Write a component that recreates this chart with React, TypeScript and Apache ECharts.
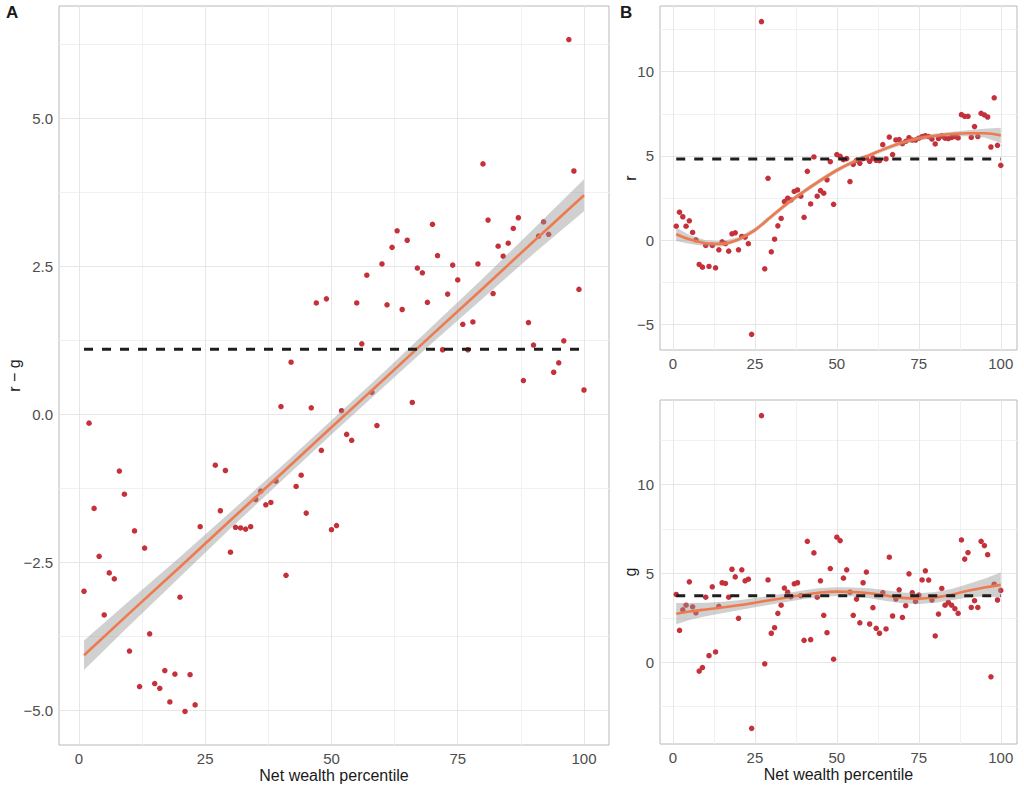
import React, { useEffect, useRef } from "react";
import * as echarts from "echarts";

// Net wealth percentiles present in the data (25 and 26 are absent)
const percentiles = [
  1, 2, 3, 4, 5, 6, 7, 8, 9, 10, 11, 12, 13, 14, 15, 16, 17, 18, 19, 20, 21, 22, 23, 24,
  27, 28, 29, 30, 31, 32, 33, 34, 35, 36, 37, 38, 39, 40, 41, 42, 43, 44, 45, 46, 47, 48, 49, 50,
  51, 52, 53, 54, 55, 56, 57, 58, 59, 60, 61, 62, 63, 64, 65, 66, 67, 68, 69, 70, 71, 72, 73, 74, 75,
  76, 77, 78, 79, 80, 81, 82, 83, 84, 85, 86, 87, 88, 89, 90, 91, 92, 93, 94, 95, 96, 97, 98, 99, 100,
];

const rMinusG = [
  -2.99, -0.15, -1.59, -2.4, -3.39, -2.68, -2.78, -0.96, -1.35, -4.0, -1.97, -4.6, -2.26, -3.71, -4.55, -4.63,
  -4.33, -4.86, -4.39, -3.09, -5.02, -4.4, -4.91, -1.9,
  -0.86, -1.63, -0.95, -2.33, -1.91, -1.92, -1.94, -1.9, -1.44, -1.3, -1.53, -1.49, -1.13, 0.13, -2.72, 0.88,
  -1.22, -1.03, -1.67, 0.11, 1.88, -0.61, 1.95, -1.95, -1.88, 0.06, -0.34, -0.44, 1.88, 1.19, 2.35, 0.37,
  -0.19, 2.54, 1.85, 2.82, 3.1, 1.77, 2.94, 0.2, 2.47, 2.39, 1.89, 3.21, 2.68, 1.09, 2.03, 2.52, 2.27, 1.52,
  1.09, 1.56, 2.54, 4.23, 3.28, 2.04, 2.84, 2.67, 2.89, 3.14, 3.32, 0.57, 1.55, 1.17, 3.01, 3.25, 3.04, 0.71,
  0.87, 1.24, 6.33, 4.11, 2.11, 0.41,
];

const rValues = [
  0.83, 1.66, 1.39, 0.83, 1.15, 0.46, 0.02, -1.44, -1.6, -0.31, -1.56, -0.31, -1.64, -0.57, -0.1, -0.21,
  -0.65, 0.38, 0.44, -0.57, 0.22, 0.18, -0.21, -5.59,
  12.97, -1.7, 3.67, -0.69, 0.06, 0.85, 1.29, 2.29, 2.49, 2.39, 2.89, 2.98, 2.61, 1.36, 4.09, 2.15, 4.94,
  2.61, 2.94, 2.79, 3.58, 4.66, 2.13, 5.08, 4.98, 4.78, 4.84, 3.48, 4.5, 4.74, 4.56, 4.84, 4.88, 4.68, 4.87,
  4.74, 4.72, 5.67, 4.82, 6.12, 5.08, 5.95, 5.97, 5.73, 5.87, 6.08, 5.94, 5.94, 6.05, 6.15, 6.2, 6.15, 6.0,
  5.71, 6.03, 6.19, 6.05, 6.03, 6.1, 6.15, 6.07, 7.45, 7.35, 7.35, 6.1, 6.74, 6.15, 7.53, 7.43, 7.31, 5.53,
  8.45, 5.63, 4.44,
];

const gValues = [
  3.81, 1.79, 2.95, 3.21, 4.52, 3.12, 2.78, -0.5, -0.3, 3.66, 0.37, 4.24, 0.58, 3.14, 4.47, 4.43, 3.66, 5.23,
  4.8, 2.47, 5.2, 4.58, 4.67, -3.72,
  13.87, -0.09, 4.63, 1.63, 1.94, 2.75, 3.21, 4.17, 3.94, 3.69, 4.41, 4.47, 3.74, 1.23, 6.8, 1.27, 6.15,
  3.66, 4.58, 2.64, 1.66, 5.27, 0.17, 7.03, 6.84, 4.73, 5.2, 3.94, 2.64, 3.55, 2.22, 4.47, 5.07, 2.15, 3.07,
  1.91, 1.63, 3.92, 1.87, 5.91, 2.6, 3.55, 4.07, 2.52, 3.18, 4.97, 3.91, 3.42, 3.78, 4.63, 5.14, 4.62, 3.5,
  1.48, 2.71, 4.15, 3.21, 3.36, 3.21, 3.01, 2.75, 6.88, 5.8, 6.17, 3.08, 3.46, 3.08, 6.8, 6.56, 6.05, -0.82,
  4.39, 3.5, 4.04,
];

// horizontal reference (mean) levels
const meanRG = 1.1;
const meanR = 4.82;
const meanG = 3.74;

// Panel A: linear fit with confidence band
const fitXA = [1, 10, 20, 30, 40, 50, 60, 70, 80, 90, 100];
const fitA = [-4.07, -3.36, -2.58, -1.79, -1.01, -0.22, 0.56, 1.35, 2.13, 2.92, 3.7];
const halfA = [0.25, 0.21, 0.17, 0.14, 0.125, 0.12, 0.125, 0.14, 0.17, 0.21, 0.27];

// Panels B and C: smooth fits with confidence bands
const fitXBC = [1, 5, 10, 15, 20, 25, 30, 35, 40, 45, 50, 55, 60, 65, 70, 75, 80, 85, 90, 95, 100];
const fitR = [0.35, 0.05, -0.18, -0.22, 0.05, 0.6, 1.4, 2.2, 2.9, 3.55, 4.15, 4.65, 5.05, 5.45, 5.8, 6.05, 6.2, 6.3, 6.35, 6.35, 6.22];
const halfR = [0.4, 0.26, 0.18, 0.15, 0.14, 0.14, 0.14, 0.14, 0.14, 0.14, 0.14, 0.13, 0.13, 0.13, 0.13, 0.13, 0.13, 0.14, 0.18, 0.26, 0.45];
const fitG = [2.73, 2.85, 2.97, 3.08, 3.2, 3.35, 3.5, 3.65, 3.8, 3.92, 3.97, 3.95, 3.88, 3.75, 3.62, 3.58, 3.65, 3.8, 4.02, 4.2, 4.35];
const halfG = [0.6, 0.48, 0.38, 0.32, 0.28, 0.26, 0.25, 0.25, 0.25, 0.25, 0.25, 0.26, 0.28, 0.3, 0.3, 0.3, 0.3, 0.32, 0.38, 0.5, 0.7];

// tick labels / grid lines
const xTicks = [0, 25, 50, 75, 100];
const xMinor = [12.5, 37.5, 62.5, 87.5];
const yTicksA = [-5, -2.5, 0, 2.5, 5];
const yMinorA = [-3.75, -1.25, 1.25, 3.75, 6.25];
const yTicksB = [-5, 0, 5, 10];
const yMinorB = [-2.5, 2.5, 7.5, 12.5];
const yTicksC = [0, 5, 10];
const yMinorC = [-2.5, 2.5, 7.5, 12.5];

const FONT = "'Liberation Sans', Arial, Helvetica, sans-serif";
const POINT = "#c5313b";
const FIT = "#ee7a4e";
const BAND = "rgba(150,150,150,0.45)";
const GRID_MAJOR = "#e6e6e6";
const GRID_MINOR = "#f1f1f1";

function expand(values: number[]): [number, number] {
  const lo = Math.min(...values);
  const hi = Math.max(...values);
  const pad = (hi - lo) * 0.05;
  return [lo - pad, hi + pad];
}

const minus = (s: string) => s.replace("-", "\u2212");

function App() {
  const ref = useRef<HTMLDivElement>(null);

  useEffect(() => {
    if (!ref.current) return;
    const chart = echarts.init(ref.current, null, { renderer: "svg" });

    const xr = expand(percentiles);
    const yrA = expand(rMinusG);
    const yrB = expand(rValues);
    const yrC = expand(gValues);

    const grids = [
      { left: 59, top: 6, width: 550, height: 739 },
      { left: 660, top: 6, width: 357, height: 344 },
      { left: 660, top: 400, width: 357, height: 344 },
    ].map((g) => ({
      ...g,
      show: true,
      borderColor: "#b8b8b8",
      borderWidth: 1,
      backgroundColor: "#ffffff",
      containLabel: false,
      outerBoundsMode: "none",
    }));

    const tickLabel = {
      fontSize: 15,
      color: "#4d4d4d",
      fontFamily: FONT,
      margin: 6,
    };

    const mkX = (gridIndex: number, withName: boolean) => ({
      type: "value",
      gridIndex,
      min: xr[0],
      max: xr[1],
      axisLine: { show: false },
      axisTick: { show: true, length: 3, lineStyle: { color: "#b3b3b3" }, customValues: xTicks },
      axisLabel: { ...tickLabel, customValues: xTicks, formatter: (v: number) => String(v) },
      splitLine: { show: false },
      name: withName ? "Net wealth percentile" : "",
      nameLocation: "middle",
      nameGap: 22,
      nameMoveOverlap: false,
      nameTextStyle: { fontSize: 16, color: "#1a1a1a", fontFamily: FONT },
    });

    const mkY = (gridIndex: number, range: [number, number], ticks: number[], name: string, gap: number, fmt: (v: number) => string) => ({
      type: "value",
      gridIndex,
      min: range[0],
      max: range[1],
      axisLine: { show: false },
      axisTick: { show: true, length: 3, lineStyle: { color: "#b3b3b3" }, customValues: ticks },
      axisLabel: { ...tickLabel, customValues: ticks, formatter: fmt },
      splitLine: { show: false },
      name,
      nameLocation: "middle",
      nameRotate: 90,
      nameGap: gap,
      nameMoveOverlap: false,
      nameTextStyle: { fontSize: 16, color: "#1a1a1a", fontFamily: FONT },
    });

    const gridLines = (idx: number, yMajor: number[], yMin: number[]) => ({
      type: "line",
      xAxisIndex: idx,
      yAxisIndex: idx,
      data: [],
      z: 1,
      silent: true,
      markLine: {
        silent: true,
        z: 1,
        symbol: "none",
        animation: false,
        label: { show: false },
        emphasis: { disabled: true },
        data: [
          ...xMinor.map((v) => ({ xAxis: v, lineStyle: { color: GRID_MINOR, width: 1, type: "solid" } })),
          ...yMin.map((v) => ({ yAxis: v, lineStyle: { color: GRID_MINOR, width: 1, type: "solid" } })),
          ...xTicks.map((v) => ({ xAxis: v, lineStyle: { color: GRID_MAJOR, width: 1, type: "solid" } })),
          ...yMajor.map((v) => ({ yAxis: v, lineStyle: { color: GRID_MAJOR, width: 1, type: "solid" } })),
        ],
      },
    });

    const scatter = (idx: number, vals: number[]) => ({
      type: "scatter",
      xAxisIndex: idx,
      yAxisIndex: idx,
      z: 2,
      symbolSize: 5.5,
      itemStyle: { color: POINT, opacity: 1 },
      data: percentiles.map((p, i) => [p, vals[i]]),
    });

    const band = (idx: number, xs: number[], fit: number[], half: number[]) => ({
      type: "custom",
      xAxisIndex: idx,
      yAxisIndex: idx,
      z: 3,
      silent: true,
      data: xs.map((x, i) => [x, fit[i] - half[i], fit[i] + half[i]]),
      encode: { x: 0, y: [1, 2] },
      renderItem: (params: any, api: any) => {
        if (params.dataIndex !== 0) return { type: "group", children: [] };
        const top = xs.map((x, i) => api.coord([x, fit[i] + half[i]]));
        const bot = xs.map((x, i) => api.coord([x, fit[i] - half[i]])).reverse();
        return {
          type: "polygon",
          shape: { points: top.concat(bot), smooth: 0 },
          style: { fill: BAND, stroke: "none" },
        };
      },
    });

    const fitLine = (idx: number, xs: number[], fit: number[], smooth: boolean) => ({
      type: "line",
      xAxisIndex: idx,
      yAxisIndex: idx,
      z: 4,
      silent: true,
      smooth: smooth ? 0.4 : false,
      showSymbol: false,
      symbol: "none",
      lineStyle: { color: FIT, width: 2.6 },
      data: xs.map((x, i) => [x, fit[i]]),
    });

    const meanLine = (idx: number, m: number) => ({
      type: "line",
      xAxisIndex: idx,
      yAxisIndex: idx,
      z: 5,
      silent: true,
      symbol: "none",
      showSymbol: false,
      lineStyle: { color: "#1e1e1e", width: 3, type: [9, 9] },
      data: [
        [percentiles[0], m],
        [percentiles[percentiles.length - 1], m],
      ],
    });

    const option: any = {
      animation: false,
      backgroundColor: "#ffffff",
      textStyle: { fontFamily: FONT },
      grid: grids,
      xAxis: [mkX(0, true), mkX(1, false), mkX(2, true)],
      yAxis: [
        mkY(0, yrA, yTicksA, "r \u2212 g", 37, (v: number) => minus(v.toFixed(1))),
        mkY(1, yrB, yTicksB, "r", 22, (v: number) => minus(String(v))),
        mkY(2, yrC, yTicksC, "g", 22, (v: number) => minus(String(v))),
      ],
      graphic: [
        { type: "text", left: 6, top: 4, style: { text: "A", fontSize: 17, fontWeight: "bold", fill: "#1a1a1a", fontFamily: FONT } },
        { type: "text", left: 620, top: 4, style: { text: "B", fontSize: 17, fontWeight: "bold", fill: "#1a1a1a", fontFamily: FONT } },
      ],
      series: [
        gridLines(0, yTicksA, yMinorA),
        gridLines(1, yTicksB, yMinorB),
        gridLines(2, yTicksC, yMinorC),
        scatter(0, rMinusG),
        scatter(1, rValues),
        scatter(2, gValues),
        band(0, fitXA, fitA, halfA),
        band(1, fitXBC, fitR, halfR),
        band(2, fitXBC, fitG, halfG),
        fitLine(0, fitXA, fitA, false),
        fitLine(1, fitXBC, fitR, true),
        fitLine(2, fitXBC, fitG, true),
        meanLine(0, meanRG),
        meanLine(1, meanR),
        meanLine(2, meanG),
      ],
    };

    chart.setOption(option);
    return () => chart.dispose();
  }, []);

  return (
    <div
      ref={ref}
      style={{ position: "absolute", left: 0, top: 0, width: 1024, height: 788, background: "#ffffff" }}
    />
  );
}

export default App;
